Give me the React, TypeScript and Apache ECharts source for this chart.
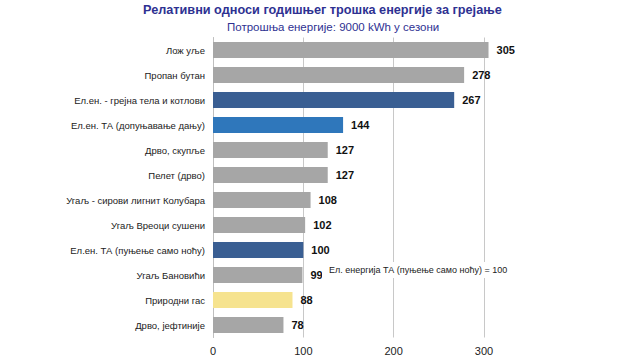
import React, { useEffect, useRef } from "react";
import * as echarts from "echarts";

const categories = [
  "Лож уље",
  "Пропан бутан",
  "Ел.ен. - грејна тела и котлови",
  "Ел.ен. ТА (допуњавање дању)",
  "Дрво, скупље",
  "Пелет (дрво)",
  "Угаљ - сирови лигнит Колубара",
  "Угаљ Вреоци сушени",
  "Ел.ен. ТА (пуњење само ноћу)",
  "Угаљ Бановићи",
  "Природни гас",
  "Дрво, јефтиније",
];
const values = [305, 278, 267, 144, 127, 127, 108, 102, 100, 99, 88, 78];
const barColors = [
  "#a6a6a6", "#a6a6a6", "#3a5f93", "#2f77bb", "#a6a6a6", "#a6a6a6",
  "#a6a6a6", "#a6a6a6", "#3a5f93", "#a6a6a6", "#f6e38f", "#a6a6a6",
];
const xTicks = [0, 100, 200, 300];
const titleText = "Релативни односи годишњег трошка енергије за грејање";
const subtitleText = "Потрошња енергије: 9000 kWh у сезони";
const noteText = "Ел. енергија ТА (пуњење само ноћу) = 100";

const FONT = "'Liberation Sans', Arial, sans-serif";

export default function App() {
  const ref = useRef<HTMLDivElement>(null);
  useEffect(() => {
    if (!ref.current) return;
    const chart = echarts.init(ref.current, null, { renderer: "svg" });
    chart.setOption({
      animation: false,
      backgroundColor: "#ffffff",
      title: [
        {
          text: titleText,
          left: 143,
          top: 3,
          padding: 0,
          textStyle: { fontFamily: FONT, fontSize: 12.7, fontWeight: "bold", color: "#2e3192" },
        },
        {
          text: subtitleText,
          left: 227,
          top: 21,
          padding: 0,
          textStyle: { fontFamily: FONT, fontSize: 11.5, fontWeight: "normal", color: "#2e3192" },
        },
      ],
      grid: { left: 213, right: 640 - 484, top: 37.5, bottom: 359 - 337.5, containLabel: false },
      xAxis: {
        type: "value",
        min: xTicks[0],
        max: xTicks[xTicks.length - 1],
        interval: 100,
        axisLine: { show: false },
        axisTick: { show: false },
        axisLabel: { fontFamily: FONT, fontSize: 11, color: "#222", margin: 8 },
        splitLine: { show: true, lineStyle: { color: "#c8c8c8", width: 1 } },
      },
      yAxis: {
        type: "category",
        data: categories,
        inverse: true,
        axisLine: { show: true, lineStyle: { color: "#bfbfbf" } },
        axisTick: { show: false },
        axisLabel: { fontFamily: FONT, fontSize: 9.5, color: "#222", margin: 8 },
      },
      series: [
        {
          type: "bar",
          data: values.map((v, i) => ({ value: v, itemStyle: { color: barColors[i] } })),
          barCategoryGap: "36%",
          clip: false,
          label: {
            show: true,
            position: "right",
            distance: 8,
            fontFamily: FONT,
            fontSize: 11,
            fontWeight: "bold",
            color: "#111",
          },
        },
      ],
      graphic: [
        {
          type: "rect",
          left: 322,
          top: 262,
          shape: { width: 180, height: 16 },
          style: { fill: "#ffffff" },
          z: 100,
        },
        {
          type: "text",
          left: 329,
          top: 265,
          style: { text: noteText, fontFamily: FONT, fontSize: 9, fill: "#222" },
          z: 101,
        },
      ],
    });
    return () => chart.dispose();
  }, []);
  return <div ref={ref} style={{ width: 640, height: 359, position: "absolute", left: 0, top: 0 }} />;
}
